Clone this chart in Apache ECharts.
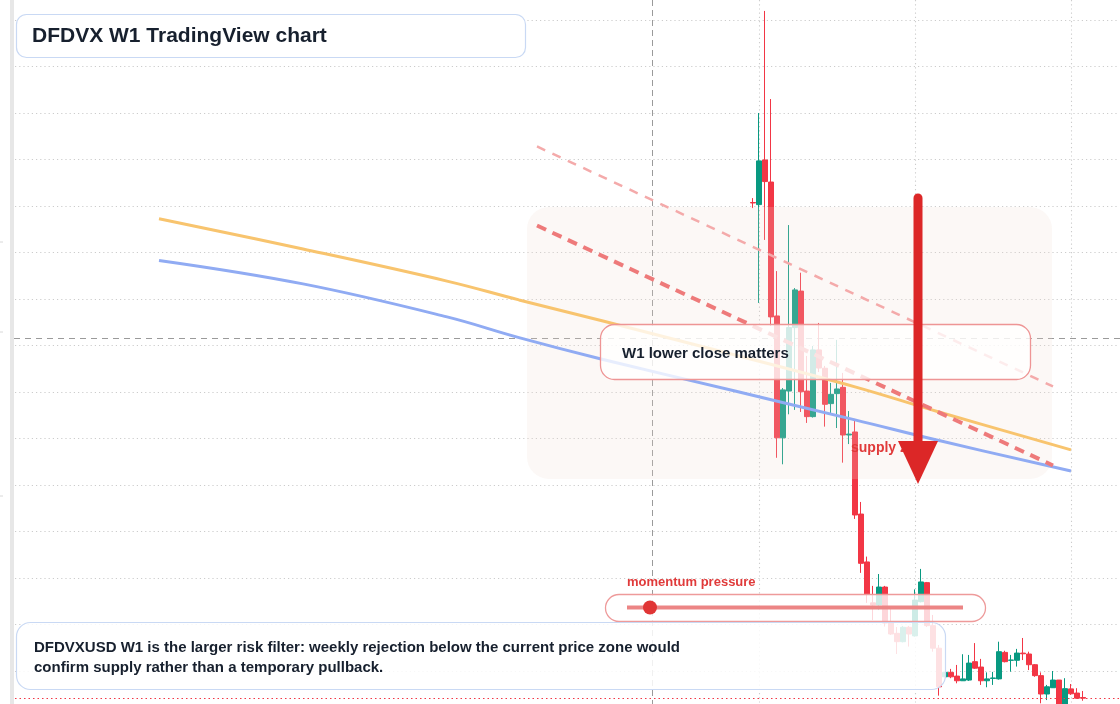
<!DOCTYPE html>
<html><head><meta charset="utf-8">
<script src="https://cdn.jsdelivr.net/npm/echarts/dist/echarts.min.js"></script>
<style>html,body{margin:0;padding:0;background:#fff;overflow:hidden}#c{width:1120px;height:704px}</style>
</head><body><div id="c"></div>
<script>
// ---- data ----
const categoryCount = 185;            // weekly slots on the x axis
const firstCandleIndex = 123;         // slot of the first drawn candle
const opens  = [22.15,22.06,23.98,23.03,17.27,12.03,14.04,16.77,18.34,14.04,12.94,15.81,15.02,13.50,13.93,14.20,12.15,12.28,8.75,6.69,4.93,4.84,5.61,4.06,3.62,3.26,3.88,3.51,4.98,5.80,3.95,2.98,1.75,1.94,1.78,1.58,1.61,2.40,2.17,1.58,1.68,1.66,2.80,2.46,2.46,2.77,2.73,2.27,1.80,1.01,1.28,1.61,0.45,1.23,1.05,0.86];
const closes = [22.13,23.94,23.05,17.23,12.03,14.09,16.77,18.39,14.01,12.94,15.81,15.03,13.47,13.90,14.13,12.15,12.19,8.71,6.63,5.31,4.84,5.61,4.06,3.59,3.26,3.88,3.59,5.05,5.83,3.95,2.98,1.32,1.94,1.75,1.58,1.66,2.34,2.12,1.58,1.66,1.70,2.83,2.40,2.47,2.77,2.74,2.27,1.80,1.01,1.32,1.61,0.49,1.24,1.02,0.83,0.83];
const lows   = [21.91,17.83,20.54,16.84,11.17,10.89,13.04,13.23,13.14,12.67,12.90,14.86,12.51,13.05,12.45,10.96,11.76,8.54,6.22,4.93,4.19,4.62,3.91,3.55,2.73,3.23,3.05,3.48,4.95,3.89,2.83,0.94,1.74,1.69,1.47,1.57,1.57,2.09,1.40,1.30,1.40,1.63,2.37,1.97,2.19,2.47,2.04,1.75,0.61,0.75,1.27,0.32,0.32,0.97,0.80,0.72];
const highs  = [22.34,26.00,30.39,26.60,19.20,14.17,21.18,18.47,19.13,15.55,15.98,16.97,15.12,14.39,16.24,14.82,13.18,12.84,9.27,6.92,5.66,6.17,5.66,4.75,3.89,3.94,3.94,5.51,6.39,5.83,4.41,3.12,1.96,2.09,2.26,2.72,2.69,3.20,2.52,1.94,1.96,3.26,2.87,2.69,2.95,3.42,2.83,2.30,1.94,1.40,2.00,1.61,1.69,1.44,1.26,1.14];
// moving-average style curves: [slot, price]
const orangeCurve = [[24,21.45],[48,20.15],[72,18.77],[84,17.96],[98,17.05],[120,15.59],[140,14.22],[154,13.14],[176,11.51]];
const blueCurve   = [[24,19.66],[48,18.65],[72,17.23],[84,16.34],[98,15.40],[120,14.04],[140,12.80],[154,11.91],[176,10.60]];
// descending resistance lines
const resistanceStrong = [[87,21.16],[173,10.84]];
const resistanceFaint  = [[87,24.56],[173,14.24]];
// price grid levels and visible price range
const priceGridLevels = [2,4,6,8,10,12,14,16,18,20,22,24,26,28,30];
const priceRange = [0.58, 30.86];
const timeGridSlots = [124,150,176];

// ---- build ----
const categories = [];
for (let i = 0; i < categoryCount; i++) categories.push('W' + i);
const candleData = [];
for (let i = 0; i < categoryCount; i++) {
  const j = i - firstCandleIndex;
  if (j >= 0 && j < opens.length) candleData.push([opens[j], closes[j], lows[j], highs[j]]);
  else candleData.push('-');
}
const lastClose = closes[closes.length - 1];

const chart = echarts.init(document.getElementById('c'), null, {renderer:'canvas'});
const FONT = 'Liberation Sans, Arial, sans-serif';
const GRID_STYLE = {color:'#cccccc', width:1.1, type:[1.2,3]};
chart.setOption({
  animation:false,
  backgroundColor:'#ffffff',
  grid:{left:15, right:1, top:0, bottom:0, containLabel:false},
  xAxis:{type:'category', data:categories, boundaryGap:false,
    axisLine:{show:false}, axisTick:{show:false}, axisLabel:{show:false},
    splitLine:{show:true, interval:(idx)=>timeGridSlots.indexOf(idx) >= 0, lineStyle:GRID_STYLE}},
  yAxis:{type:'value', min:priceRange[0], max:priceRange[1],
    axisLine:{show:false}, axisTick:{show:false}, axisLabel:{show:false},
    splitLine:{show:false}},
  series:[
    {type:'line', data:[], symbol:'none', z:0,
      markLine:{silent:true, z:0, symbol:['none','none'], label:{show:false},
        lineStyle:GRID_STYLE,
        data:priceGridLevels.map(v=>({yAxis:v}))}},
    {type:'candlestick', data:candleData, barWidth:5, z:2,
      itemStyle:{color:'#089981', color0:'#f23645', borderColor:'#089981', borderColor0:'#f23645', borderWidth:1},
      markLine:{silent:true, symbol:['none','none'], label:{show:false},
        lineStyle:{color:'#f23645', type:[1.5,3], width:1.2},
        data:[{yAxis:lastClose}]}},
    {type:'line', data:orangeCurve, smooth:0.4, symbol:'none', z:4,
      lineStyle:{color:'#f8c46e', width:3}},
    {type:'line', data:blueCurve, smooth:0.4, symbol:'none', z:4,
      lineStyle:{color:'#90abf3', width:3}},
    {type:'line', data:resistanceStrong, symbol:'none', z:4,
      lineStyle:{color:'#ee7a7a', width:4, type:[10,7]}},
    {type:'line', data:resistanceFaint, symbol:'none', z:4,
      lineStyle:{color:'#f4aaaa', width:2.5, type:[9,8]}}
  ],
  graphic:[
    {type:'rect', z:3, shape:{x:527,y:207,width:525,height:272,r:22}, style:{fill:'rgba(238,220,208,0.2)'}},
    {type:'rect', z:1, shape:{x:10,y:0,width:4,height:704}, style:{fill:'#e7e7e7'}},
    {type:'line', z:1, shape:{x1:0,y1:242,x2:3,y2:242}, style:{stroke:'#d8d8d8',lineWidth:1}},
    {type:'line', z:1, shape:{x1:0,y1:332,x2:3,y2:332}, style:{stroke:'#d8d8d8',lineWidth:1}},
    {type:'line', z:1, shape:{x1:0,y1:496,x2:3,y2:496}, style:{stroke:'#d8d8d8',lineWidth:1}},
    // crosshair
    {type:'line', z:1, shape:{x1:652.5,y1:0,x2:652.5,y2:704}, style:{stroke:'#9a9a9a',lineWidth:1,lineDash:[6,4]}},
    {type:'line', z:1, shape:{x1:14,y1:338.5,x2:1120,y2:338.5}, style:{stroke:'#9a9a9a',lineWidth:1,lineDash:[6,5]}},
    // title
    {type:'rect', z:50, shape:{x:16.5,y:14.5,width:509,height:43,r:10}, style:{fill:'#ffffff',stroke:'#c9d9f4',lineWidth:1.2}},
    {type:'text', z:51, x:32, y:36, style:{text:'DFDVX W1 TradingView chart', font:'bold 21px '+FONT, fill:'#17202e', textVerticalAlign:'middle'}},
    // W1 box
    {type:'rect', z:50, shape:{x:600.5,y:324.5,width:430,height:55,r:14}, style:{fill:'rgba(255,255,255,0.78)',stroke:'#ee9595',lineWidth:1.3}},
    {type:'text', z:51, x:622, y:354, style:{text:'W1 lower close matters', font:'bold 15px '+FONT, fill:'#17202e', textVerticalAlign:'middle'}},
    // supply zone label + arrow
    {type:'text', z:55, x:851, y:448, style:{text:'supply zone', font:'bold 14px '+FONT, fill:'#e03a3a', textVerticalAlign:'middle'}},
    {type:'line', z:60, shape:{x1:918,y1:198,x2:918,y2:446}, style:{stroke:'#dc2727',lineWidth:9,lineCap:'round'}},
    {type:'polygon', z:60, shape:{points:[[898,441],[938,441],[918,484]]}, style:{fill:'#dc2727'}},
    // momentum pill
    {type:'text', z:51, x:627, y:582, style:{text:'momentum pressure', font:'bold 13px '+FONT, fill:'#e03a3a', textVerticalAlign:'middle'}},
    {type:'rect', z:50, shape:{x:605.5,y:594.5,width:380,height:27,r:13.5}, style:{fill:'rgba(255,255,255,0.8)',stroke:'#ee9a9a',lineWidth:1.3}},
    {type:'line', z:51, shape:{x1:627,y1:607.5,x2:963,y2:607.5}, style:{stroke:'#ec8585',lineWidth:4}},
    {type:'circle', z:52, shape:{cx:650,cy:607.5,r:7}, style:{fill:'#e03535'}},
    // bottom note
    {type:'rect', z:50, shape:{x:16.5,y:622.5,width:929,height:67,r:14}, style:{fill:'rgba(255,255,255,0.85)',stroke:'#c9d9f4',lineWidth:1.2}},
    {type:'text', z:51, x:34, y:648, style:{text:'DFDVXUSD W1 is the larger risk filter: weekly rejection below the current price zone would', font:'bold 15px '+FONT, fill:'#17202e', textVerticalAlign:'middle'}},
    {type:'text', z:51, x:34, y:668, style:{text:'confirm supply rather than a temporary pullback.', font:'bold 15px '+FONT, fill:'#17202e', textVerticalAlign:'middle'}}
  ]
});
</script></body></html>
